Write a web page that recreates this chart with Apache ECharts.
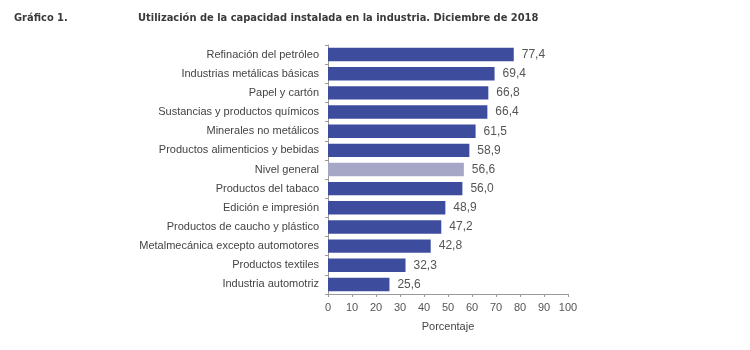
<!DOCTYPE html>
<html>
<head>
<meta charset="utf-8">
<script src="https://cdn.jsdelivr.net/npm/echarts@6/dist/echarts.min.js"></script>
<style>
  html, body { margin: 0; padding: 0; background: #fff; }
  #chart { width: 750px; height: 350px; }
</style>
</head>
<body>
<div id="chart"></div>
<script>
// Categories listed bottom to top (ECharts category y-axis starts at the bottom)
const industries = [
  "Industria automotriz",
  "Productos textiles",
  "Metalmecánica excepto automotores",
  "Productos de caucho y plástico",
  "Edición e impresión",
  "Productos del tabaco",
  "Nivel general",
  "Productos alimenticios y bebidas",
  "Minerales no metálicos",
  "Sustancias y productos químicos",
  "Papel y cartón",
  "Industrias metálicas básicas",
  "Refinación del petróleo",
];
const utilization = [25.6, 32.3, 42.8, 47.2, 48.9, 56.0, 56.6, 58.9, 61.5, 66.4, 66.8, 69.4, 77.4];
const highlightCategory = "Nivel general";

const BAR_COLOR = "#3e4c9e";
const HIGHLIGHT_COLOR = "#a6a6c6";
const TITLE_FONT = "'DejaVu Sans Condensed', 'Liberation Sans Narrow', 'Liberation Sans', sans-serif";

const barData = utilization.map((v, i) => ({
  value: v,
  itemStyle: { color: industries[i] === highlightCategory ? HIGHLIGHT_COLOR : BAR_COLOR },
}));

const option = {
  animation: false,
  title: [
    {
      text: "Gráfico 1.",
      left: 14,
      top: 13,
      padding: 0,
      textStyle: { fontFamily: TITLE_FONT, fontWeight: "bold", fontSize: 11, color: "#3a3a3a" },
    },
    {
      text: "Utilización de la capacidad instalada en la industria. Diciembre de 2018",
      left: 138,
      top: 13,
      padding: 0,
      textStyle: { fontFamily: TITLE_FONT, fontWeight: "bold", fontSize: 11, color: "#3a3a3a" },
    },
  ],
  grid: { left: 328, right: 182, top: 45, bottom: 56, containLabel: false },
  xAxis: {
    type: "value",
    min: 0,
    max: 100,
    interval: 10,
    name: "Porcentaje",
    nameLocation: "middle",
    nameGap: 27,
    nameTextStyle: { fontFamily: "Liberation Sans", fontSize: 11, color: "#444" },
    axisLine: { show: true, lineStyle: { color: "#9a9a9a" } },
    axisTick: { show: true, length: 3, lineStyle: { color: "#9a9a9a" } },
    axisLabel: { fontFamily: "Liberation Sans", fontSize: 11, color: "#555", margin: 8 },
    splitLine: { show: false },
  },
  yAxis: {
    type: "category",
    data: industries,
    axisLine: { show: true, lineStyle: { color: "#9a9a9a" } },
    axisTick: { show: true, length: 3, lineStyle: { color: "#9a9a9a" } },
    axisLabel: { fontFamily: "Liberation Sans", fontSize: 11, color: "#444", margin: 9 },
  },
  series: [
    {
      type: "bar",
      data: barData,
      barCategoryGap: "30%",
      label: {
        show: true,
        position: "right",
        distance: 8,
        fontFamily: "Liberation Sans",
        fontSize: 12,
        color: "#555",
        formatter: (p) => p.value.toFixed(1).replace(".", ","),
      },
    },
  ],
};

const chart = echarts.init(document.getElementById("chart"));
chart.setOption(option);
</script>
</body>
</html>
